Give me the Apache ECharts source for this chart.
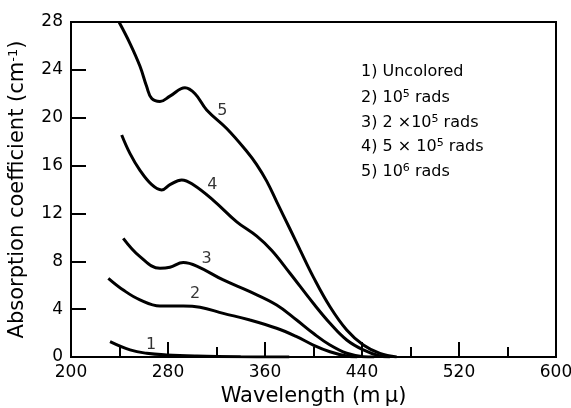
<!DOCTYPE html>
<html><head><meta charset="utf-8">
<script src="https://cdn.jsdelivr.net/npm/echarts@6/dist/echarts.min.js"></script>
<style>html,body{margin:0;padding:0;background:#fff}#c{width:571px;height:408px}</style>
</head><body><div id="c"></div>
<script>
// wavelength (mμ) and absorption coefficient (cm^-1) for each curve
const wl1 = [232.2, 248.7, 262.4, 278.9, 303.7, 340, 380];
const a1  = [1.28, 0.59, 0.31, 0.17, 0.08, 0.02, 0];
const wl2 = [230.8, 243.1, 256.9, 273.4, 292.6, 306.4, 325.6, 347.6, 369.6, 386.1, 399.8, 413.6, 427.4, 436];
const a2  = [6.58, 5.6, 4.77, 4.26, 4.26, 4.15, 3.65, 3.09, 2.4, 1.7, 1.0, 0.44, 0.08, 0];
const wl3 = [243.1, 256.9, 273.4, 281.6, 292.6, 303.7, 325.6, 347.6, 369.6, 386.1, 399.8, 413.6, 427.4, 441.1, 450];
const a3  = [9.92, 8.39, 7.41, 7.5, 7.89, 7.6, 6.44, 5.46, 4.35, 3.09, 1.98, 1.0, 0.31, 0.03, 0];
const wl4 = [241.8, 248.7, 256.9, 266.6, 274.8, 281.6, 291.3, 300.9, 317.4, 336.7, 353.2, 365.6, 380.6, 399.8, 413.6, 427.4, 441.1, 454.8, 463];
const a4  = [18.56, 17.0, 15.6, 14.4, 13.96, 14.4, 14.8, 14.4, 13.1, 11.3, 10.1, 8.9, 7.0, 4.49, 2.82, 1.42, 0.59, 0.08, 0];
const wl5 = [239.6, 248.7, 256.9, 262.4, 266.6, 273.4, 281.6, 294, 302.3, 311.9, 328.4, 344.9, 353, 361.4, 370, 380.6, 388.9, 399.8, 413.6, 427.4, 441.1, 454.8, 468.6];
const a5  = [28, 26.2, 24.3, 22.6, 21.6, 21.35, 21.8, 22.5, 22.0, 20.65, 19.1, 17.2, 16.1, 14.7, 12.9, 10.7, 8.95, 6.7, 4.2, 2.26, 1.0, 0.3, 0];

// curve number labels (data coordinates)
const labelText = ['1', '2', '3', '4', '5'];
const labelX = [266, 302.3, 311.9, 316.5, 324.8];
const labelY = [1.0, 5.24, 8.19, 14.4, 20.6];

// key text
const keyNum = ['1)', '2)', '3)', '4)', '5)'];
const keyPre = ['Uncolored', '10', '2 ×10', '5 × 10', '10'];
const keySup = ['', '5', '5', '5', '6'];
const keyPost = ['', ' rads', ' rads', ' rads', ' rads'];

const xTicks = [200, 280, 360, 440, 520, 600];
const yTicks = [0, 4, 8, 12, 16, 20, 24, 28];

const FONT = 'DejaVu Sans';
const chart = echarts.init(document.getElementById('c'), null, {renderer: 'canvas'});

function pairs(xs, ys) { return xs.map((x, i) => [x, ys[i]]); }
const curves = [[wl1, a1], [wl2, a2], [wl3, a3], [wl4, a4], [wl5, a5]];

const series = curves.map(([xs, ys]) => ({
  type: 'line', data: pairs(xs, ys), smooth: 0.4, symbol: 'none',
  lineStyle: {color: '#000', width: 3}, silent: true, clip: true
}));
series.push({
  type: 'scatter', symbolSize: 0, silent: true,
  data: labelText.map((t, i) => ({value: [labelX[i], labelY[i]], name: t})),
  label: {show: true, position: 'inside', formatter: p => p.name, color: '#000', fontFamily: FONT, fontSize: 16}
});

const graphics = keyNum.map((n, i) => ({
  type: 'text', left: 361, top: 64 + i * 24.6,
  style: {
    rich: {
      t: {fontFamily: FONT, fontSize: 16, fill: '#000'},
      s: {fontFamily: FONT, fontSize: 11, fill: '#000', verticalAlign: 'top', padding: [0, 0, 8, 0]}
    },
    text: '{t|' + n + ' ' + keyPre[i] + '}' + (keySup[i] ? '{s|' + keySup[i] + '}' : '') + (keyPost[i] ? '{t|' + keyPost[i] + '}' : '')
  }
}));

chart.setOption({
  animation: false,
  backgroundColor: '#fff',
  grid: {left: 71, top: 22, right: 15, bottom: 51, outerBoundsMode: 'none', containLabel: false,
    show: true, borderColor: '#000', borderWidth: 2, backgroundColor: 'transparent'},
  xAxis: {
    type: 'value', min: 200, max: 600, interval: 80,
    name: 'Wavelength (m\u2009\u03bc)', nameLocation: 'middle', nameGap: 29,
    nameTextStyle: {fontFamily: FONT, fontSize: 21, color: '#000'},
    axisLine: {lineStyle: {color: '#000', width: 2}},
    axisTick: {inside: true, length: 15, lineStyle: {color: '#000', width: 2}},
    minorTick: {show: true, splitNumber: 2, length: 10, lineStyle: {color: '#000', width: 2}},
    axisLabel: {fontFamily: FONT, fontSize: 17, color: '#000', margin: 7,
      formatter: v => xTicks.includes(v) ? String(v) : ''},
    splitLine: {show: false}
  },
  yAxis: {
    type: 'value', min: 0, max: 28, interval: 4,
    name: 'Absorption coefficient (cm{s|-1})', nameLocation: 'middle', nameGap: 42,
    nameTextStyle: {fontFamily: FONT, fontSize: 21, color: '#000',
      rich: {s: {fontFamily: FONT, fontSize: 13, color: '#000', verticalAlign: 'top', padding: [0, 0, 9, 0]}}},
    axisLine: {lineStyle: {color: '#000', width: 2}},
    axisTick: {inside: true, length: 15, lineStyle: {color: '#000', width: 2}},
    axisLabel: {fontFamily: FONT, fontSize: 17, color: '#000', margin: 8,
      formatter: v => yTicks.includes(v) ? String(v) : ''},
    splitLine: {show: false}
  },
  graphic: graphics,
  series: series
});
</script></body></html>
